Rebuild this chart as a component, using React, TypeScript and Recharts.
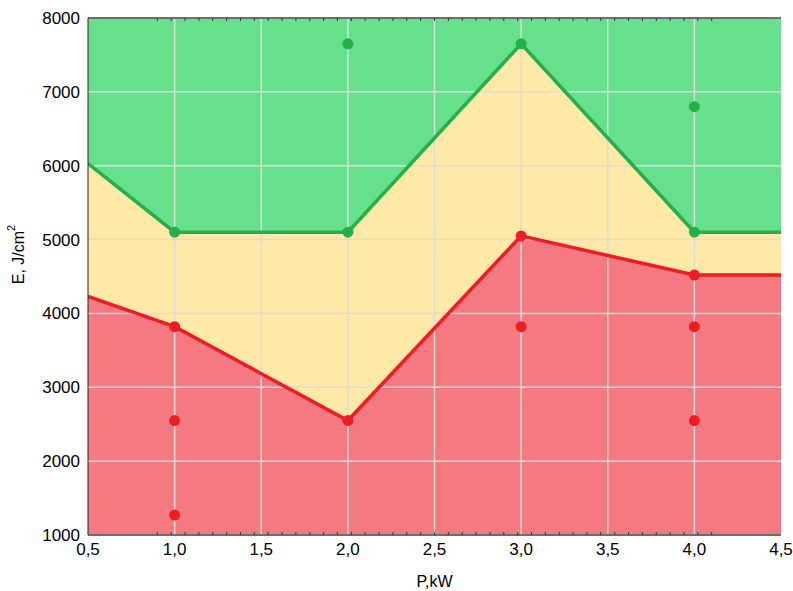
import React from "react"
import {
  ComposedChart, Area, Line, Scatter, XAxis, YAxis,
  CartesianGrid, ReferenceLine, Label,
} from "recharts"

// boundary polylines (P, kW -> E, J/cm2)
const boundaryP = [0.5, 1.0, 2.0, 3.0, 4.0, 4.5]
const greenBoundary = [6030, 5100, 5100, 7650, 5100, 5100]
const redBoundary = [4230, 3820, 2550, 5050, 4520, 4520]

// measured points
const greenPointsP = [1.0, 2.0, 2.0, 3.0, 4.0, 4.0]
const greenPointsE = [5100, 7650, 5100, 7650, 6800, 5100]
const redPointsP = [1.0, 1.0, 1.0, 2.0, 3.0, 3.0, 4.0, 4.0, 4.0]
const redPointsE = [3820, 2550, 1270, 2550, 5050, 3820, 4520, 3820, 2550]

// axes
const xTicks = [0.5, 1.0, 1.5, 2.0, 2.5, 3.0, 3.5, 4.0, 4.5]
const yTicks = [1000, 2000, 3000, 4000, 5000, 6000, 7000, 8000]
const xMinorTicks = Array.from({ length: 41 }, (_, i) => +(0.5 + i * 0.1).toFixed(1))
const yMinorTicks = Array.from({ length: 36 }, (_, i) => 1000 + i * 200)

const GREEN_FILL = "#66E08B"
const YELLOW_FILL = "#FFE9A6"
const RED_FILL = "#F47981"
const GREEN_LINE = "#22B04B"
const RED_LINE = "#EE1D25"
const GRID = "#DCDCDC"

const boundaryData = boundaryP.map((p, i) => ({ x: p, upper: greenBoundary[i], lower: redBoundary[i] }))
const greenPoints = greenPointsP.map((p, i) => ({ x: p, y: greenPointsE[i] }))
const redPoints = redPointsP.map((p, i) => ({ x: p, y: redPointsE[i] }))

const fmtX = (v: number) => v.toFixed(1).replace(".", ",")
const blank = () => ""

const tickFont = { fontFamily: "'Liberation Sans', Arial, sans-serif", fontSize: 17, fill: "#000" }

function dot(color: string) {
  return (props: any) => <circle cx={props.cx} cy={props.cy} r={5.5} fill={color} />
}

function YLabel({ viewBox }: any) {
  const cx = 18
  const cy = viewBox.y + viewBox.height / 2 - 22
  return (
    <text
      x={cx} y={cy}
      transform={`rotate(-90 ${cx} ${cy})`}
      textAnchor="middle"
      dominantBaseline="central"
      style={{ fontFamily: "'Liberation Sans', Arial, sans-serif", fontSize: 16, fill: "#000" }}
    >
      E, J/cm<tspan dy={-7} fontSize={11}>2</tspan>
    </text>
  )
}

export default function App() {
  return (
    <div style={{ position: "absolute", left: 0, top: 0, width: 793, height: 591, background: "#fff" }}>
      <ComposedChart
        width={793}
        height={591}
        data={boundaryData}
        margin={{ top: 18, right: 12, left: 0, bottom: 0 }}
      >
        <CartesianGrid fill={GREEN_FILL} horizontal={false} vertical={false} />
        <XAxis
          dataKey="x" type="number" domain={[0.5, 4.5]} ticks={xTicks}
          tickFormatter={fmtX} height={56} tick={tickFont} tickLine={false}
          axisLine={{ stroke: "#6E6E6E", strokeWidth: 2 }} allowDataOverflow
        >
          <Label value="P,kW" position="insideBottom" offset={4}
            style={{ fontFamily: "'Liberation Sans', Arial, sans-serif", fontSize: 16, fill: "#000" }} />
        </XAxis>
        <XAxis xAxisId="minorB" type="number" domain={[0.5, 4.5]} ticks={xMinorTicks}
          mirror tickSize={3} tickFormatter={blank} axisLine={false} tickLine={{ stroke: "#333" }} />
        <XAxis xAxisId="minorT" orientation="top" type="number" domain={[0.5, 4.5]} ticks={xMinorTicks}
          mirror tickSize={3} tickFormatter={blank} tickLine={{ stroke: "#333" }}
          axisLine={{ stroke: "#6E6E6E", strokeWidth: 2 }} />
        <YAxis
          type="number" domain={[1000, 8000]} ticks={yTicks} width={88}
          tick={tickFont} tickLine={false} axisLine={{ stroke: "#222", strokeWidth: 1 }}
          allowDataOverflow
        >
          <Label content={<YLabel />} />
        </YAxis>
        <YAxis yAxisId="minorL" type="number" domain={[1000, 8000]} ticks={yMinorTicks}
          mirror tickSize={3} tickFormatter={blank} axisLine={false} tickLine={{ stroke: "#333" }} />
        <YAxis yAxisId="minorR" orientation="right" type="number" domain={[1000, 8000]} ticks={yMinorTicks}
          mirror tickSize={3} tickFormatter={blank} tickLine={{ stroke: "#333" }} width={0}
          axisLine={{ stroke: "#222", strokeWidth: 1 }} />

        <Area dataKey="upper" type="linear" baseValue={1000} fill={YELLOW_FILL} fillOpacity={1}
          stroke="none" isAnimationActive={false} />
        <Area dataKey="lower" type="linear" baseValue={1000} fill={RED_FILL} fillOpacity={1}
          stroke="none" isAnimationActive={false} />

        {xTicks.slice(1, -1).map((t) => (
          <ReferenceLine key={"vx" + t} x={t} stroke={GRID} strokeWidth={1.5} zIndex={150} />
        ))}
        {yTicks.slice(1, -1).map((t) => (
          <ReferenceLine key={"hy" + t} y={t} stroke={GRID} strokeWidth={1.5} zIndex={150} />
        ))}

        <Line dataKey="upper" type="linear" stroke={GREEN_LINE} strokeWidth={3.5} dot={false}
          activeDot={false} isAnimationActive={false} />
        <Line dataKey="lower" type="linear" stroke={RED_LINE} strokeWidth={3.5} dot={false}
          activeDot={false} isAnimationActive={false} />

        <Scatter data={greenPoints} dataKey="y" shape={dot(GREEN_LINE)} isAnimationActive={false} />
        <Scatter data={redPoints} dataKey="y" shape={dot(RED_LINE)} isAnimationActive={false} />
      </ComposedChart>
    </div>
  )
}
